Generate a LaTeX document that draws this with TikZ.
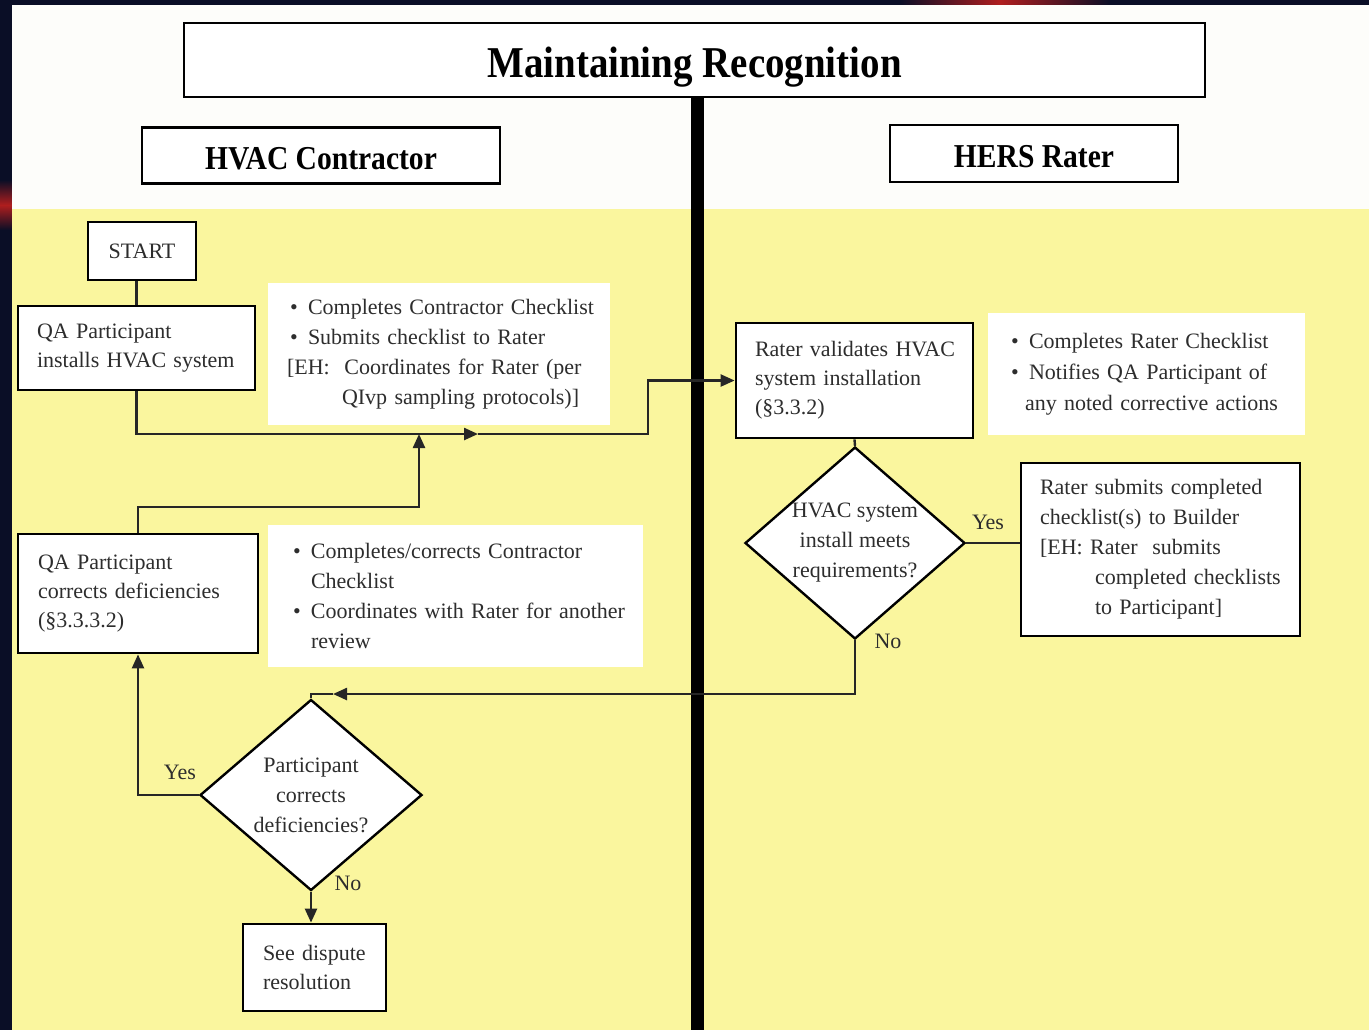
\documentclass[tikz,border=0pt]{standalone}
\usepackage{fontspec}
\setmainfont{Liberation Serif}
\newfontfamily\headfont[FakeStretch=0.885]{Liberation Serif}
\usetikzlibrary{shapes.geometric,arrows.meta}
\definecolor{bgdark}{RGB}{10,14,38}
\definecolor{pale}{RGB}{250,246,158}
\definecolor{paper}{RGB}{253,253,250}
\definecolor{txt}{RGB}{45,45,45}
\definecolor{redstreak}{RGB}{175,30,30}
\newcommand\mybul{\makebox[10.5pt][l]{\hspace{1.5pt}\textbullet}}
\newcommand\myline[1]{\mbox{#1}}
\newcommand\lowered[2]{\raisebox{-#1}[0pt][0pt]{#2}}
\begin{document}
\begin{tikzpicture}[x=0.5pt,y=-0.5pt,
  box/.style={draw=black,line width=1.4pt,fill=white,text=txt,font=\fontsize{11}{14.5}\selectfont,inner ysep=0pt,align=left},
  note/.style={fill=white,text=txt,font=\fontsize{11}{15}\selectfont,inner ysep=0pt,align=left},
  head/.style={draw=black,line width=1.4pt,fill=white,text=black,font=\headfont\bfseries\fontsize{16.7}{19}\selectfont},
  dec/.style={diamond,draw=black,line width=1.2pt,fill=white,text=txt,inner sep=0pt,align=center,font=\fontsize{11}{15}\selectfont},
  conn/.style={line width=1.2pt,draw=black!85},
  arr/.style={conn,-{Triangle[length=7pt,width=6pt]}},
  lab/.style={text=txt,font=\fontsize{11}{13}\selectfont}
]
% background
\fill[bgdark] (0,0) rectangle (1369,1030);
\useasboundingbox (0,0) rectangle (1369,1030);
\shade[left color=bgdark,right color=redstreak] (900,0) rectangle (1000,5);
\shade[left color=redstreak,right color=bgdark] (1000,0) rectangle (1110,5);
\shade[top color=bgdark,bottom color=redstreak] (0,180) rectangle (12,205);
\shade[top color=redstreak,bottom color=bgdark] (0,205) rectangle (12,230);
\fill[paper] (12,5) rectangle (1369,209);
\fill[pale] (12,209) rectangle (1369,1030);
% lane divider
\fill[black] (691,97) rectangle (704,1030);

% headings
\node[head,minimum width=510.5pt,minimum height=37pt,font=\headfont\bfseries\fontsize{22}{25}\selectfont] (title) at (694.5,60) {\lowered{8.5pt}{Maintaining Recognition}};
\node[head,minimum width=179pt,minimum height=28pt] (hvac) at (321,155.5) {\lowered{6.75pt}{HVAC Contractor}};
\node[head,minimum width=144pt,minimum height=28.5pt] (hers) at (1034,153.5) {\lowered{6.75pt}{HERS Rater}};

% left lane
\node[box,align=center,minimum width=54pt,minimum height=29pt] (start) at (142,251) {START};
\node[box,minimum width=118.5pt,minimum height=42pt,inner xsep=9.5pt,text width=99.5pt] (qa1) at (136.5,348) {\myline{QA Participant}\\\myline{installs HVAC system}};
\node[note,minimum width=171pt,minimum height=71pt,inner xsep=9.5pt,text width=152pt] (n1) at (439,354)
  {\myline{\mybul Completes Contractor Checklist}\\\myline{\mybul Submits checklist to Rater}\\\myline{[EH:\ \ Coordinates for Rater (per}\\\myline{\hspace*{27.5pt}QIvp sampling protocols)]}};
\node[box,minimum width=120pt,minimum height=59.5pt,inner xsep=10pt,text width=100pt] (qa2) at (138,593.5) {\myline{QA Participant}\\\myline{corrects deficiencies}\\\myline{(§3.3.3.2)}};
\node[note,minimum width=187.5pt,minimum height=71pt,inner xsep=11pt,text width=165.5pt] (n3) at (455.5,596)
  {\myline{\mybul Completes/corrects Contractor}\\\myline{\hspace*{10.5pt}Checklist}\\\myline{\mybul Coordinates with Rater for another}\\\myline{\hspace*{10.5pt}review}};
\node[dec,minimum width=111pt,minimum height=95.5pt,aspect=1.16] (d2) at (311,795) {Participant\\corrects\\deficiencies?};
\node[box,minimum width=71.5pt,minimum height=43.5pt,inner xsep=10pt,text width=51.5pt] (disp) at (314.5,967.5) {\myline{See dispute}\\\myline{resolution}};

% right lane
\node[box,minimum width=118.5pt,minimum height=57.5pt,inner xsep=9.5pt,text width=99.5pt] (rv) at (854.5,380.5) {\myline{Rater validates HVAC}\\\myline{system installation}\\\myline{(§3.3.2)}};
\node[note,minimum width=158.5pt,minimum height=61pt,inner xsep=10pt,text width=138.5pt,font=\fontsize{11}{15.5}\selectfont] (n2) at (1146.5,374)
  {\myline{\mybul Completes Rater Checklist}\\\myline{\mybul Notifies QA Participant of}\\\myline{\hspace*{8.5pt}any noted corrective actions}};
\node[dec,minimum width=110pt,minimum height=96pt,aspect=1.146] (d1) at (855,543) {HVAC system\\install meets\\requirements?};
\node[box,minimum width=139.5pt,minimum height=86.5pt,inner xsep=9.5pt,text width=120.5pt,font=\fontsize{11}{15}\selectfont] (rs) at (1160.5,549.5)
  {\myline{Rater submits completed}\\\myline{checklist(s) to Builder}\\\myline{[EH: Rater\ \ submits}\\\myline{\hspace*{27.5pt}completed checklists}\\\myline{\hspace*{27.5pt}to Participant]}};

% connectors
\coordinate (j1) at (419,434);
\coordinate (ma) at (478,434);
\coordinate (t1) at (648,434);
\coordinate (k1) at (419,507);
\coordinate (a2) at (333,694);
\draw[conn] (qa1.north) -- (qa1.north |- start.south);
\draw[arr] (qa1.south) |- (ma);
\draw[arr] (ma) -- (t1) |- (rv.west);
\draw[arr] (qa2.north) |- (k1) -- (j1);
\draw[conn] (rv.south) -- (d1.north);
\draw[conn] (d1.east) -- (d1.east -| rs.west);
\draw[arr] (d1.south) |- (a2);
\draw[conn] (a2) -| (d2.north);
\draw[arr] (d2.west) -| (qa2.south);
\draw[arr] (d2.south) -- (d2.south |- disp.north);

% labels
\node[lab] (ly1) at (988,522) {Yes};
\node[lab] (ln1) at (888,641) {No};
\node[lab] (ly2) at (180,772) {Yes};
\node[lab] (ln2) at (348,883) {No};
\end{tikzpicture}
\end{document}
